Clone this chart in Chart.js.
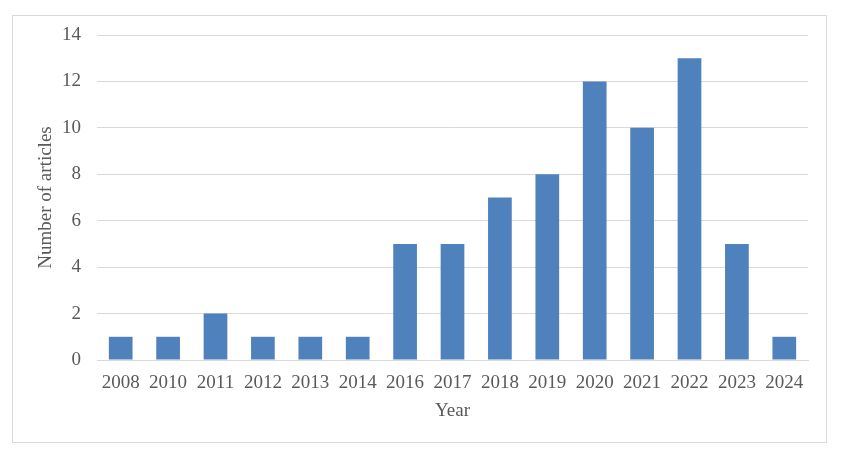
<!DOCTYPE html>
<html>
<head>
<meta charset="utf-8">
<script src="https://cdn.jsdelivr.net/npm/chart.js@4"></script>
<style>
  html, body { margin: 0; padding: 0; background: #fff; }
  #box {
    position: absolute; left: 12px; top: 15px;
    width: 813px; height: 426px;
    border: 1px solid #d9d9d9;
  }
</style>
</head>
<body>
<div id="box"><canvas id="chart" width="813" height="426"></canvas></div>
<script>
const years = ['2008', '2010', '2011', '2012', '2013', '2014', '2016', '2017', '2018', '2019', '2020', '2021', '2022', '2023', '2024'];
const articles = [1, 1, 2, 1, 1, 1, 5, 5, 7, 8, 12, 10, 13, 5, 1];
const yTicks = [0, 2, 4, 6, 8, 10, 12, 14];

const font = { family: '"Liberation Serif", "Times New Roman", serif', size: 19 };
const gray = '#595959';

function renderChart() {
    const ctx = document.getElementById('chart').getContext('2d');
    new Chart(ctx, {
        type: 'bar',
        data: {
            labels: years,
            datasets: [{
                label: 'Number of articles',
                data: articles,
                backgroundColor: '#4f81bd',
                barPercentage: 0.5,
                categoryPercentage: 1.0
            }]
        },
        options: {
            responsive: false,
            animation: false,
            layout: { padding: { top: 19, right: 18, left: 0, bottom: 0 } },
            plugins: {
                legend: { display: false },
                tooltip: { enabled: false }
            },
            scales: {
                x: {
                    grid: { display: false, drawTicks: false },
                    border: { display: true, color: '#d9d9d9' },
                    ticks: { color: gray, font: font, padding: 12, maxRotation: 0, autoSkip: false },
                    title: { display: true, text: 'Year', color: gray, font: font, padding: { top: 0, bottom: 20 } },
                    afterFit: s => { s.height = 82; s.paddingLeft = 0; s.paddingRight = 0; }
                },
                y: {
                    min: 0,
                    max: 14,
                    afterBuildTicks: s => { s.ticks = yTicks.map(v => ({ value: v })); },
                    grid: { color: '#d9d9d9', drawTicks: false },
                    border: { display: false },
                    ticks: { color: gray, font: font, padding: 16 },
                    title: { display: true, text: 'Number of articles', color: gray, font: font, padding: { top: 22, bottom: 0 } },
                    afterFit: s => { s.width = 84; s.paddingTop = 0; s.paddingBottom = 0; }
                }
            }
        }
    });
}

window.onload = renderChart;
</script>
</body>
</html>
